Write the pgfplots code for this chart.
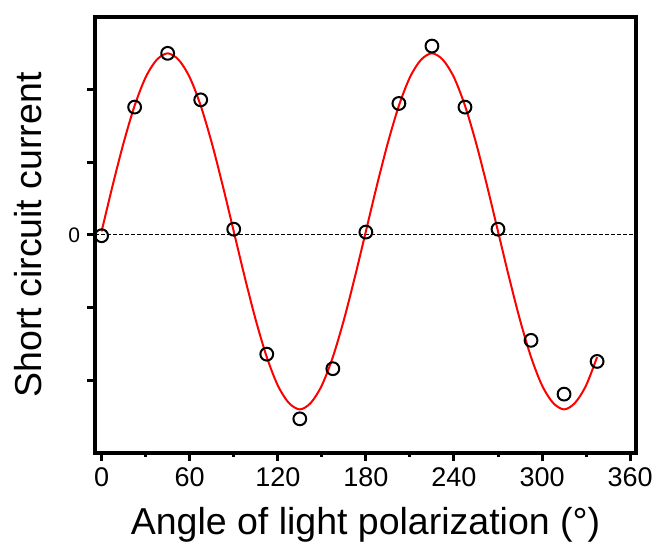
\documentclass[border=0pt]{standalone}
\usepackage{fontspec}
\setmainfont{Liberation Sans}
\usepackage{pgfplots}
\pgfplotsset{compat=1.18}

% measured data (circles)
\pgfplotstableread{
ang   isc
0     -0.01
22.5   1.76
45     2.50
67.5   1.86
90     0.08
112.5 -1.64
135   -2.53
157.5 -1.84
180    0.04
202.5  1.81
225    2.60
247.5  1.76
270    0.08
292.5 -1.45
315   -2.19
337.5 -1.74
}\measured

% fitted curve
\pgfplotstableread{
ang   isc
0      0.05
7.5    0.68
15     1.27
22.5   1.78
30     2.17
37.5   2.41
45     2.50
52.5   2.41
60     2.17
67.5   1.78
75     1.27
82.5   0.68
90     0.05
97.5  -0.58
105   -1.17
112.5 -1.68
120   -2.07
127.5 -2.31
135   -2.40
142.5 -2.31
150   -2.07
157.5 -1.68
165   -1.17
172.5 -0.58
180    0.05
187.5  0.68
195    1.27
202.5  1.78
210    2.17
217.5  2.41
225    2.50
232.5  2.41
240    2.17
247.5  1.78
255    1.27
262.5  0.68
270    0.05
277.5 -0.58
285   -1.17
292.5 -1.68
300   -2.07
307.5 -2.31
315   -2.40
322.5 -2.31
330   -2.07
337.5 -1.68
}\fitted

\begin{document}
\begin{tikzpicture}
\path[use as bounding box] (-47.5pt,-48pt) rectangle (281pt,226.5pt);
\begin{axis}[
  at={(0,0)}, anchor=south west,
  scale only axis,
  width=270.5pt, height=218pt,
  xmin=-4.5, xmax=364,
  ymin=-3, ymax=3,
  xtick={0,60,...,360},
  minor x tick num=1,
  ytick={-2,-1,0,1,2},
  yticklabels={,,0,,},
  xtick pos=lower, ytick pos=left,
  tick align=outside,
  major tick length=4pt,
  minor tick length=2pt,
  every tick/.style={black, line width=1.5pt},
  axis line style={line width=2pt, line cap=rect},
  /pgf/number format/assume math mode=true,
  xticklabel style={font=\fontsize{13.5}{15}\selectfont},
  yticklabel style={font=\fontsize{10.5}{12}\selectfont},
  xlabel={Angle of light polarization (°)},
  ylabel={Short circuit current},
  xlabel style={font=\fontsize{18.75}{21}\selectfont, at={(axis description cs:0.5,-0.188)}, anchor=base, inner sep=0pt},
  ylabel style={font=\fontsize{18.75}{21}\selectfont, at={(axis description cs:-0.098,0.5)}, anchor=base, inner sep=0pt},
  clip=false,
]
\addplot[black, dashed, line width=0.5pt, dash pattern=on 2pt off 1pt] coordinates {(-4.5,0) (364,0)};
\addplot[red, line width=1pt, smooth] table[x=ang, y=isc] {\fitted};
\addplot[only marks, mark=o, mark size=3.2pt, mark options={black, line width=1pt}] table[x=ang, y=isc] {\measured};
\end{axis}
\end{tikzpicture}
\end{document}
